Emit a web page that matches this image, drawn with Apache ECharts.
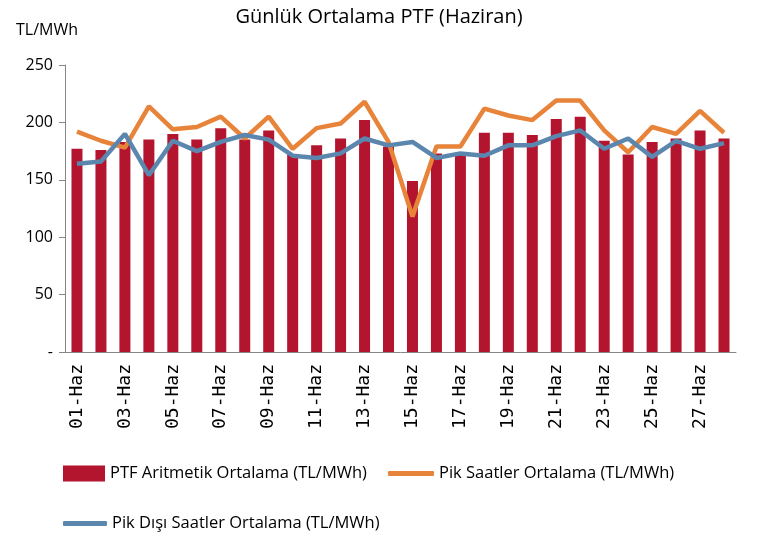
<!DOCTYPE html>
<html>
<head>
<meta charset="utf-8">
<script src="https://cdn.jsdelivr.net/npm/echarts@6/dist/echarts.min.js"></script>
<style>
  html, body { margin: 0; padding: 0; background: #fff; }
  #chart { width: 758px; height: 536px; }
</style>
</head>
<body>
<div id="chart"></div>
<script>
const days = [
  '01-Haz', '02-Haz', '03-Haz', '04-Haz', '05-Haz', '06-Haz', '07-Haz',
  '08-Haz', '09-Haz', '10-Haz', '11-Haz', '12-Haz', '13-Haz', '14-Haz',
  '15-Haz', '16-Haz', '17-Haz', '18-Haz', '19-Haz', '20-Haz', '21-Haz',
  '22-Haz', '23-Haz', '24-Haz', '25-Haz', '26-Haz', '27-Haz', '28-Haz'
];

// PTF aritmetik ortalama
const ptfAvg = [
  177, 176, 183, 185, 190, 185, 195, 185, 193, 172, 180, 186, 202, 179,
  149, 173, 172, 191, 191, 189, 203, 205, 184, 172, 183, 186, 193, 186
];

// pik saatler
const peakAvg = [
  192, 184, 178, 214, 194, 196, 205, 186, 205, 177, 195, 199, 218, 183,
  118, 179, 179, 212, 206, 202, 219, 219, 193, 174, 196, 190, 210, 191
];

// pik dışı saatler
const offPeakAvg = [
  164, 166, 190, 154, 184, 175, 183, 189, 185, 171, 169, 173, 186, 180,
  183, 169, 173, 171, 180, 180, 188, 193, 177, 186, 170, 184, 177, 182
];

const font = '"Open Sans", sans-serif';

const chart = echarts.init(document.getElementById('chart'));

const legendText = { fontSize: 16.5, color: '#000', fontFamily: font };

chart.setOption({
  animation: false,
  textStyle: { fontFamily: font },
  title: [
    {
      text: 'Günlük Ortalama PTF (Haziran)',
      left: 'center',
      top: 2,
      textStyle: { fontSize: 20, fontWeight: 'normal', color: '#000', fontFamily: font }
    },
    {
      text: 'TL/MWh',
      left: 11,
      top: 17,
      textStyle: { fontSize: 16, fontWeight: 'normal', color: '#000', fontFamily: font }
    }
  ],
  grid: { left: 65, right: 22, top: 65, bottom: 184 },
  legend: [
    {
      data: ['PTF Aritmetik Ortalama (TL/MWh)'],
      left: 58, top: 460,
      icon: 'rect',
      itemWidth: 42, itemHeight: 16, itemGap: 4,
      textStyle: legendText
    },
    {
      data: ['Pik Saatler Ortalama (TL/MWh)'],
      left: 383, top: 460,
      icon: 'roundRect',
      itemWidth: 46, itemHeight: 5,
      textStyle: legendText
    },
    {
      data: ['Pik Dışı Saatler Ortalama (TL/MWh)'],
      left: 58, top: 510,
      icon: 'roundRect',
      itemWidth: 44, itemHeight: 5,
      textStyle: legendText
    }
  ],
  xAxis: {
    type: 'category',
    data: days,
    boundaryGap: true,
    axisLine: { lineStyle: { color: '#868686', width: 1 } },
    axisTick: { interval: 1, length: 6, lineStyle: { color: '#868686' } },
    axisLabel: {
      interval: 1,
      rotate: 90,
      fontSize: 18,
      color: '#000',
      margin: 12,
      fontFamily: '"DejaVu Sans Mono", monospace'
    }
  },
  yAxis: {
    type: 'value',
    min: 0,
    max: 250,
    interval: 50,
    axisLine: { show: true, lineStyle: { color: '#868686', width: 1 } },
    axisTick: { show: true, length: 6, lineStyle: { color: '#868686' } },
    splitLine: { show: false },
    axisLabel: {
      fontSize: 16,
      color: '#000',
      margin: 12,
      formatter: v => (v === 0 ? '-' : String(v))
    }
  },
  series: [
    {
      name: 'PTF Aritmetik Ortalama (TL/MWh)',
      type: 'bar',
      data: ptfAvg,
      barWidth: 11,
      itemStyle: { color: '#B3152E' }
    },
    {
      name: 'Pik Saatler Ortalama (TL/MWh)',
      type: 'line',
      data: peakAvg,
      symbol: 'none',
      lineStyle: { color: '#E8833A', width: 4.5 },
      itemStyle: { color: '#E8833A' }
    },
    {
      name: 'Pik Dışı Saatler Ortalama (TL/MWh)',
      type: 'line',
      data: offPeakAvg,
      symbol: 'none',
      lineStyle: { color: '#5B86AE', width: 4.5 },
      itemStyle: { color: '#5B86AE' }
    }
  ]
});
</script>
</body>
</html>
